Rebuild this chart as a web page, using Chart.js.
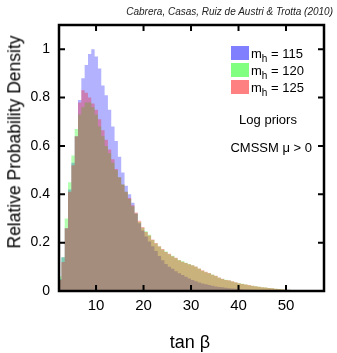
<!DOCTYPE html>
<html>
<head>
<meta charset="utf-8">
<script src="https://cdn.jsdelivr.net/npm/chart.js@4.4.1/dist/chart.umd.min.js"></script>
<style>
  body { margin: 0; background: #fff; }
  #wrap { position: relative; width: 337px; height: 353px; font-family: "Liberation Sans", Arial, sans-serif; color: #000; }
  #wrap canvas { position: absolute; left: 0; top: 0; }
  .note { position: absolute; white-space: nowrap; line-height: 1; }
  .swatch { position: absolute; width: 18px; height: 14px; }
  .note sub { font-size: 10px; vertical-align: -4px; line-height: 0; }
</style>
</head>
<body>
<div id="wrap">
  <canvas id="histChart" width="337" height="353"></canvas>
  <div class="note" style="right:4px; top:12px; transform:translateY(-50%); font-size:10px; font-style:italic; color:#222;">Cabrera, Casas, Ruiz de Austri &amp; Trotta (2010)</div>
  <div class="note" style="left:15px; top:142px; transform:translate(-50%,-50%) rotate(-90deg); font-size:17.5px;">Relative Probability Density</div>
  <div class="note" style="left:190px; top:342px; transform:translate(-50%,-50%); font-size:18px;">tan β</div>

  <div class="swatch" style="left:231px; top:46px; background:rgb(128,128,255);"></div>
  <div class="swatch" style="left:231px; top:63px; background:rgb(128,255,128);"></div>
  <div class="swatch" style="left:231px; top:80px; background:rgb(255,128,128);"></div>
  <div class="note" style="left:251px; top:53px; transform:translateY(-50%); font-size:13px;">m<sub>h</sub> = 115</div>
  <div class="note" style="left:251px; top:70px; transform:translateY(-50%); font-size:13px;">m<sub>h</sub> = 120</div>
  <div class="note" style="left:251px; top:87px; transform:translateY(-50%); font-size:13px;">m<sub>h</sub> = 125</div>

  <div class="note" style="left:268px; top:119px; transform:translate(-50%,-50%); font-size:13px;">Log priors</div>
  <div class="note" style="right:25px; top:147px; transform:translateY(-50%); font-size:13px;">CMSSM μ &gt; 0</div>
</div>

<script>
// histogram bins in tan beta
const binStart = 2.0;
const binWidth = 0.7;

// relative probability per bin
const mh115 = [
  0.01, 0.05, 0.14, 0.26, 0.42, 0.53, 0.64, 0.79, 0.88, 0.935,
  0.98, 1.0, 0.97, 0.92, 0.85, 0.81, 0.75, 0.68, 0.62, 0.555,
  0.49, 0.435, 0.40, 0.365, 0.32, 0.28, 0.25, 0.225, 0.205, 0.185,
  0.165, 0.145, 0.127, 0.112, 0.100, 0.092, 0.082, 0.073, 0.066, 0.059,
  0.052, 0.046, 0.040, 0.035, 0.031, 0.028, 0.025, 0.022, 0.019, 0.017,
  0.015, 0.013, 0.011, 0.010, 0.009, 0.008, 0.007, 0.006, 0.006, 0.005,
  0.005, 0.004, 0.004, 0.003, 0.003, 0.003, 0.002, 0.002, 0.002, 0.001,
  0.001, 0.001, 0.001, 0, 0, 0
];
const mh120 = [
  0.015, 0.06, 0.14, 0.30, 0.45, 0.56, 0.67, 0.73, 0.76, 0.78,
  0.78, 0.76, 0.73, 0.68, 0.64, 0.60, 0.57, 0.53, 0.50, 0.47,
  0.44, 0.41, 0.38, 0.35, 0.32, 0.285, 0.262, 0.247, 0.233, 0.211,
  0.196, 0.184, 0.172, 0.163, 0.152, 0.146, 0.136, 0.128, 0.123, 0.117,
  0.112, 0.106, 0.100, 0.092, 0.084, 0.078, 0.073, 0.068, 0.062, 0.055,
  0.050, 0.047, 0.043, 0.039, 0.035, 0.032, 0.030, 0.027, 0.024, 0.022,
  0.020, 0.018, 0.016, 0.014, 0.012, 0.011, 0.009, 0.008, 0.007, 0.006,
  0.005, 0.004, 0.003, 0.002, 0.001, 0
];
const mh125 = [
  0.01, 0.045, 0.12, 0.26, 0.41, 0.52, 0.64, 0.78, 0.83, 0.82,
  0.80, 0.775, 0.75, 0.71, 0.665, 0.625, 0.585, 0.545, 0.505, 0.47,
  0.44, 0.41, 0.385, 0.355, 0.325, 0.29, 0.265, 0.244, 0.229, 0.213,
  0.198, 0.185, 0.174, 0.161, 0.154, 0.144, 0.137, 0.127, 0.121, 0.116,
  0.111, 0.107, 0.101, 0.093, 0.086, 0.080, 0.074, 0.067, 0.063, 0.056,
  0.051, 0.046, 0.044, 0.040, 0.036, 0.032, 0.029, 0.027, 0.025, 0.022,
  0.020, 0.018, 0.016, 0.014, 0.012, 0.011, 0.009, 0.008, 0.007, 0.006,
  0.005, 0.004, 0.003, 0.002, 0.001, 0
];

const xTicks = [10, 20, 30, 40, 50];
const yTicks = [0, 0.2, 0.4, 0.6, 0.8, 1];

function toSteps(values) {
  const pts = values.map((v, i) => ({ x: binStart + i * binWidth, y: v }));
  pts.push({ x: binStart + values.length * binWidth, y: values[values.length - 1] });
  return pts;
}

function histSet(label, values, fill, order) {
  return {
    label: label,
    data: toSteps(values),
    stepped: 'after',
    fill: 'origin',
    backgroundColor: fill,
    borderColor: 'rgba(0,0,0,0)',
    borderWidth: 0,
    pointRadius: 0,
    order: order
  };
}

// box with inward ticks on all four sides
const framePlugin = {
  id: 'frame',
  afterDatasetsDraw(chart) {
    const { ctx, chartArea: a, scales } = chart;
    const len = 6;
    ctx.save();
    ctx.strokeStyle = '#000';
    ctx.lineWidth = 2;
    ctx.beginPath();
    xTicks.forEach(t => {
      const px = scales.x.getPixelForValue(t);
      ctx.moveTo(px, a.bottom); ctx.lineTo(px, a.bottom - len);
      ctx.moveTo(px, a.top); ctx.lineTo(px, a.top + len);
    });
    yTicks.forEach(t => {
      const py = scales.y.getPixelForValue(t);
      ctx.moveTo(a.left, py); ctx.lineTo(a.left + len, py);
      ctx.moveTo(a.right, py); ctx.lineTo(a.right - len, py);
    });
    ctx.stroke();
    ctx.lineWidth = 2.5;
    ctx.strokeRect(a.left, a.top, a.right - a.left, a.bottom - a.top);
    ctx.restore();
  }
};

const ctx = document.getElementById('histChart').getContext('2d');
new Chart(ctx, {
  type: 'line',
  data: {
    datasets: [
      histSet('mh = 115', mh115, 'rgba(0, 0, 255, 0.3)', 3),
      histSet('mh = 120', mh120, 'rgba(0, 255, 0, 0.3)', 2),
      histSet('mh = 125', mh125, 'rgba(255, 0, 0, 0.3)', 1)
    ]
  },
  options: {
    responsive: false,
    animation: false,
    events: [],
    layout: { padding: { top: 25, right: 13, left: 0, bottom: 0 } },
    plugins: {
      legend: { display: false },
      tooltip: { enabled: false }
    },
    scales: {
      x: {
        type: 'linear',
        min: 2.2,
        max: 58,
        grid: { display: false, drawTicks: false },
        border: { display: false },
        afterFit: (s) => { s.height = 62; },
        ticks: {
          stepSize: 10,
          includeBounds: false,
          autoSkip: false,
          maxRotation: 0,
          padding: 6,
          color: '#000',
          font: { family: '"Liberation Sans", Arial, sans-serif', size: 15 },
          callback: (v) => xTicks.includes(v) ? String(v) : ''
        }
      },
      y: {
        min: 0,
        max: 1.1,
        grid: { display: false, drawTicks: false },
        border: { display: false },
        afterFit: (s) => { s.width = 59; },
        ticks: {
          stepSize: 0.2,
          includeBounds: false,
          padding: 9,
          color: '#000',
          font: { family: '"Liberation Sans", Arial, sans-serif', size: 14 },
          callback: (v) => {
            const r = Math.round(v * 10) / 10;
            return yTicks.includes(r) ? String(r) : '';
          }
        }
      }
    }
  },
  plugins: [framePlugin]
});
</script>
</body>
</html>
